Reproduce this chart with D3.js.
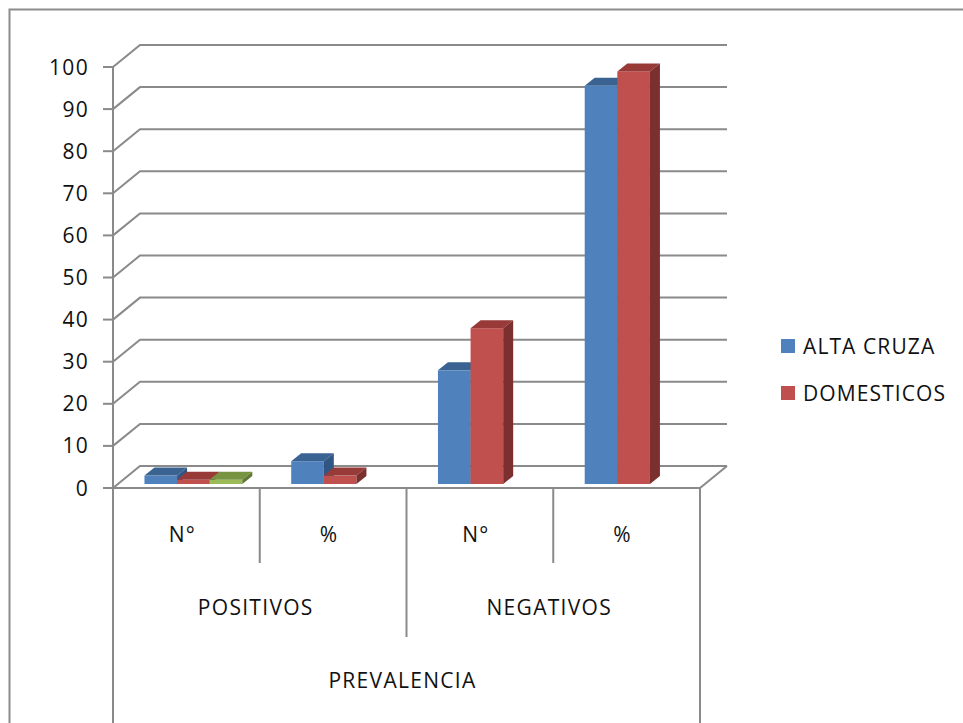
<!DOCTYPE html>
<html>
<head>
<meta charset="utf-8">
<script src="https://cdn.jsdelivr.net/npm/d3@7"></script>
<style>
  html, body { margin: 0; padding: 0; background: #ffffff; }
  svg { display: block; }
  text { font-family: "Open Sans", "Liberation Sans", sans-serif; fill: #111111; }
</style>
</head>
<body>
<svg id="chart" width="963" height="723"></svg>
<script>
// Categories: inner label (N° / %) grouped under POSITIVOS / NEGATIVOS, all under PREVALENCIA
const categories = ["POS_N", "POS_P", "NEG_N", "NEG_P"];
const categoryLabels = ["N°", "%", "N°", "%"];
const groups = ["POSITIVOS", "NEGATIVOS"];
const outerLabel = "PREVALENCIA";

// Series values per category
const seriesNames = ["ALTA CRUZA", "DOMESTICOS", "OTROS"];
const altaCruza = [2, 5.4, 27, 94.6];
const domesticos = [1, 2, 37, 98];
const otros = [1, null, null, null];
const legendSeries = ["ALTA CRUZA", "DOMESTICOS"];

const yTicks = [0, 10, 20, 30, 40, 50, 60, 70, 80, 90, 100];

const palette = {
  "ALTA CRUZA": { front: "#4F81BD", top: "#3B6392", side: "#325683" },
  "DOMESTICOS": { front: "#C0504D", top: "#973A38", side: "#7B2F2E" },
  "OTROS":      { front: "#9BBB59", top: "#779440", side: "#5F7833" }
};

const svg = d3.select("#chart");
const gridColor = "#8a8a8a";

// Outer frame
svg.append("rect")
  .attr("x", 9.5).attr("y", 9.5)
  .attr("width", 1000).attr("height", 1000)
  .attr("fill", "none").attr("stroke", "#8c8c8c").attr("stroke-width", 2);

// Plot geometry: front plane and depth of the 3D box
const left = 113, right = 700;
const depth = { dx: 27, dy: -22 };
const barOffset = { dx: 7, dy: -4 };
const barDepth = { dx: 10, dy: -8 };

const y = d3.scaleLinear().domain([0, 100]).range([488, 67]);
const x0 = d3.scaleBand().domain(categories).range([left, right]);
const x1 = d3.scaleBand().domain(seriesNames).range([0, x0.bandwidth()])
  .paddingInner(0).paddingOuter(0.75);

// Back wall gridlines, each bending back from the front axis
const grid = svg.append("g");
yTicks.forEach(t => {
  const yy = y(t);
  grid.append("polyline")
    .attr("points", [
      [left, yy], [left + depth.dx, yy + depth.dy], [right + depth.dx, yy + depth.dy]
    ].map(p => p.join(",")).join(" "))
    .attr("fill", "none").attr("stroke", gridColor).attr("stroke-width", 2);
});

// Floor front edge and right edge
svg.append("polyline")
  .attr("points", [[left - 10, y(0)], [right, y(0)], [right + depth.dx, y(0) + depth.dy]]
    .map(p => p.join(",")).join(" "))
  .attr("fill", "none").attr("stroke", gridColor).attr("stroke-width", 2);

// Value axis line and ticks
svg.append("line")
  .attr("x1", left).attr("x2", left).attr("y1", y(100)).attr("y2", 723)
  .attr("stroke", gridColor).attr("stroke-width", 2);
const axis = svg.append("g");
yTicks.forEach(t => {
  axis.append("line")
    .attr("x1", left - 10).attr("x2", left).attr("y1", y(t)).attr("y2", y(t))
    .attr("stroke", gridColor).attr("stroke-width", 2);
  axis.append("text")
    .attr("x", 89).attr("y", y(t)).attr("dy", "0.36em")
    .attr("text-anchor", "end").attr("font-size", 21).attr("letter-spacing", 1.3)
    .text(t);
});

// Bars (front, top and side faces)
const seriesData = { "ALTA CRUZA": altaCruza, "DOMESTICOS": domesticos, "OTROS": otros };
const bars = svg.append("g");
categories.forEach((c, ci) => {
  seriesNames.forEach(s => {
    const v = seriesData[s][ci];
    if (v == null) return;
    const col = palette[s];
    const w = x1.bandwidth();
    const xL = x0(c) + x1(s) + barOffset.dx;
    const yT = y(v) + barOffset.dy;
    const yB = y(0) + barOffset.dy;
    const g = bars.append("g");
    g.append("rect").attr("x", xL).attr("y", yT).attr("width", w).attr("height", yB - yT)
      .attr("fill", col.front);
    g.append("polygon")
      .attr("points", [[xL, yT], [xL + w, yT], [xL + w + barDepth.dx, yT + barDepth.dy], [xL + barDepth.dx, yT + barDepth.dy]]
        .map(p => p.join(",")).join(" "))
      .attr("fill", col.top);
    g.append("polygon")
      .attr("points", [[xL + w, yT], [xL + w + barDepth.dx, yT + barDepth.dy], [xL + w + barDepth.dx, yB + barDepth.dy], [xL + w, yB]]
        .map(p => p.join(",")).join(" "))
      .attr("fill", col.side);
  });
});

// Category axis: dividers and multi-level labels
const cat = svg.append("g");
const divider = (x, y2) => cat.append("line")
  .attr("x1", x).attr("x2", x).attr("y1", y(0)).attr("y2", y2)
  .attr("stroke", gridColor).attr("stroke-width", 2);
divider(x0("POS_P"), 563);
divider(x0("NEG_P"), 563);
divider(x0("NEG_N"), 637);
divider(right, 723);

categories.forEach((c, i) => {
  cat.append("text")
    .attr("x", x0(c) + x0.bandwidth() / 2 - 4).attr("y", 542)
    .attr("text-anchor", "middle").attr("font-size", 21).attr("letter-spacing", 1.3)
    .text(categoryLabels[i]);
});
groups.forEach((gname, i) => {
  const a = x0(categories[i * 2]), b = x0(categories[i * 2 + 1]) + x0.bandwidth();
  cat.append("text")
    .attr("x", (a + b) / 2 - 4).attr("y", 615)
    .attr("text-anchor", "middle").attr("font-size", 21).attr("letter-spacing", 1.3)
    .text(gname);
});
cat.append("text")
  .attr("x", (left + right) / 2 - 4).attr("y", 688)
  .attr("text-anchor", "middle").attr("font-size", 21).attr("letter-spacing", 1.3)
  .text(outerLabel);

// Legend
const legend = svg.append("g");
legendSeries.forEach((s, i) => {
  const ly = 346 + i * 47;
  legend.append("rect")
    .attr("x", 781).attr("y", ly - 7).attr("width", 14).attr("height", 14)
    .attr("fill", palette[s].front);
  legend.append("text")
    .attr("x", 803).attr("y", ly).attr("dy", "0.36em")
    .attr("font-size", 21).attr("letter-spacing", 1.1)
    .text(s);
});
</script>
</body>
</html>
